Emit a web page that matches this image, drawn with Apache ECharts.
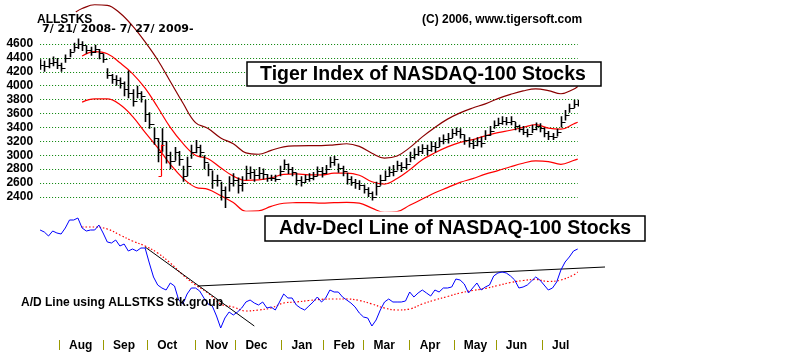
<!DOCTYPE html>
<html>
<head>
<meta charset="utf-8">
<script src="https://cdn.jsdelivr.net/npm/echarts@6/dist/echarts.min.js"></script>
<style>html,body{margin:0;padding:0;background:#fff;}#chart{width:800px;height:352px;}</style>
</head>
<body>
<div id="chart"></div>
<script>
// ---- data (trading-day index 0 = 7/21/2008, 256 = 7/27/2009; bars every 2 trading days) ----
const closes = [4300,4280,4320,4340,4300,4260,4400,4480,4560,4600,
 4580,4520,4490,4530,4470,4380,4150,4100,4080,4040,
 3950,3900,3780,3900,3850,3600,3450,3250,3050,3200,
 3000,2920,3050,2950,2700,2850,3050,3120,3050,2900,
 2800,2650,2650,2500,2400,2600,2650,2570,2600,2750,
 2760,2720,2750,2730,2680,2680,2660,2780,2880,2800,
 2760,2650,2620,2660,2680,2700,2780,2750,2800,2900,
 2950,2820,2780,2660,2620,2600,2570,2520,2460,2400,
 2560,2650,2700,2760,2780,2860,2830,2880,2980,3020,
 3060,3100,3080,3130,3120,3200,3230,3250,3320,3350,
 3300,3220,3180,3150,3200,3180,3290,3350,3440,3470,
 3500,3480,3490,3420,3380,3340,3300,3380,3420,3390,
 3320,3280,3260,3330,3480,3580,3680,3740,3750];
const highs = [4380,4360,4390,4420,4400,4330,4450,4530,4620,4680,
 4640,4580,4560,4590,4530,4460,4250,4170,4150,4120,
 4060,4220,3950,4000,3920,3800,3620,3400,3250,3390,
 3200,3050,3120,3060,2850,2980,3150,3220,3150,3000,
 2880,2780,2720,2620,2550,2700,2740,2680,2700,2850,
 2840,2800,2830,2810,2730,2720,2720,2850,2940,2880,
 2830,2750,2700,2720,2740,2760,2840,2830,2860,2980,
 2990,2880,2850,2750,2700,2660,2640,2580,2540,2480,
 2620,2720,2780,2840,2860,2920,2900,2960,3050,3100,
 3130,3160,3150,3200,3190,3260,3300,3320,3380,3400,
 3390,3300,3260,3230,3260,3270,3360,3420,3500,3540,
 3560,3550,3560,3480,3440,3420,3380,3440,3470,3460,
 3400,3350,3320,3380,3560,3650,3740,3800,3800];
const lows = [4230,4200,4250,4280,4240,4200,4330,4410,4490,4530,
 4500,4460,4430,4470,4380,4330,4100,4030,4000,3960,
 3850,3820,3700,3820,3760,3480,3380,3150,2900,3050,
 2880,2800,2920,2850,2620,2700,2950,3030,2970,2800,
 2700,2520,2550,2350,2240,2480,2550,2450,2480,2640,
 2660,2620,2660,2650,2620,2630,2620,2700,2790,2730,
 2700,2570,2550,2600,2620,2640,2700,2680,2730,2820,
 2850,2750,2700,2580,2560,2520,2500,2450,2400,2350,
 2420,2560,2630,2690,2700,2780,2760,2800,2900,2940,
 2990,3020,3000,3050,3040,3120,3160,3170,3250,3280,
 3240,3150,3110,3090,3130,3110,3220,3280,3380,3420,
 3440,3430,3430,3360,3330,3290,3260,3320,3360,3330,
 3260,3220,3220,3270,3400,3500,3610,3680,3700];
// Advance-decline line (arbitrary units), same days as the bars
const adLine = [110,108,104,109,107,106,112,120,120,122,
 112,109,110,110,115,107,98,97,100,94,
 96,89,91,89,92,92,77,63,55,52,
 50,57,54,40,36,46,52,52,49,42,
 36,34,24,12,22,28,25,28,32,38,
 40,37,35,38,32,33,30,38,46,42,
 42,35,32,30,34,38,43,38,42,50,
 48,48,43,40,37,33,27,23,22,14,
 20,30,38,41,38,38,38,39,48,43,
 47,50,47,44,50,48,52,52,53,61,
 60,56,47,52,57,50,53,55,64,67,
 68,67,64,60,52,53,55,59,63,60,
 55,50,52,58,70,78,83,89,91];
// smooth bands / moving averages, sampled on these trading days
const bandDays = [17,20,26,32,38,44,50,56,62,68,74,80,86,92,98,104,110,116,122,128,134,140,146,152,158,164,170,176,182,188,194,200,206,212,218,224,230,236,242,248,254,256];
const upperBand = [5061,5110,5165,5157,5045,4860,4630,4370,4062,3752,3470,3385,3250,3165,3035,3015,3070,3122,3136,3138,3138,3150,3166,3128,3030,2960,2990,3110,3265,3400,3520,3610,3680,3740,3815,3875,3925,3954,3930,3885,3950,3990];
const midBand = [null,4428,4490,4460,4330,4175,3965,3690,3400,3170,3000,2950,2820,2700,2638,2645,2675,2725,2732,2718,2718,2742,2744,2712,2620,2586,2665,2790,2935,3035,3120,3185,3225,3280,3325,3360,3400,3440,3390,3375,3450,3475];
const lowerBand = [null,3765,3810,3810,3730,3560,3330,3110,2870,2670,2540,2510,2420,2320,2195,2200,2265,2310,2318,2320,2312,2318,2322,2312,2240,2180,2190,2280,2370,2460,2535,2610,2665,2728,2780,2835,2885,2920,2910,2870,2925,2945];
const adAverage = [null,113,113,111,105,99,94,87,77,65,55,47,36,33,29,30,32,37,38,39.5,40.7,41,41,39.5,36,32,30,31,36,40,43.5,47,49.5,51.5,54.5,57.5,59.5,60.5,58.5,60,65,68];
// red signal bar
const signalDay = [57.5], signalHigh = [3150], signalLow = [2700];
// trend lines on the A/D line
const trendDown = { days: [50, 102], values: [93, 14] };
const trendUp = { days: [75, 269], values: [54, 73] };
// month starts (trading-day index) and names
const monthStarts = [9,30,51,74,93,115,135,154,176,197,217,239];
const monthNames = ['Aug','Sep','Oct','Nov','Dec','Jan','Feb','Mar','Apr','May','Jun','Jul'];
const priceTicks = [2400,4600,200];

// ---- build ----
const barDays = closes.map((_, k) => k * 2);
const ohlc = closes.map((c, k) => [barDays[k], k > 0 ? closes[k - 1] : c, highs[k], lows[k], c]);
const signal = signalDay.map((d, k) => [d, signalLow[k], signalHigh[k], signalLow[k], signalHigh[k]]);
const FONT = 'Liberation Sans, Arial, sans-serif';
const pxPerDay = 2.1, leftX = 40.1;

function barRenderer(color, w) {
  return function (params, api) {
    const d = api.value(0);
    const pO = api.coord([d, api.value(1)]);
    const pH = api.coord([d, api.value(2)]);
    const pL = api.coord([d, api.value(3)]);
    const pC = api.coord([d, api.value(4)]);
    const x = Math.round(pH[0]) + 0.5;
    const st = { stroke: color, lineWidth: w };
    const yo = Math.round(pO[1]) + 0.5, yc = Math.round(pC[1]) + 0.5;
    return { type: 'group', children: [
      { type: 'line', shape: { x1: x, y1: pH[1], x2: x, y2: pL[1] }, style: st },
      { type: 'line', shape: { x1: x - 3, y1: yo, x2: x, y2: yo }, style: { stroke: color, lineWidth: 1 } },
      { type: 'line', shape: { x1: x, y1: yc, x2: x + 3, y2: yc }, style: { stroke: color, lineWidth: 1 } }
    ] };
  };
}
const pairs = (days, vals) => days.map((d, k) => [d, vals[k]]);

const chart = echarts.init(document.getElementById('chart'), null, { renderer: 'canvas' });
chart.setOption({
  animation: false,
  backgroundColor: '#ffffff',
  grid: [
    { left: leftX, top: 2.3, width: 256 * pxPerDay, height: 208.6 },
    { left: leftX, top: 44, width: 256 * pxPerDay, height: 153 },
    { left: leftX, top: 210, width: 272 * pxPerDay, height: 130 }
  ],
  xAxis: [
    { gridIndex: 0, type: 'value', min: 0, max: 256, show: false },
    { gridIndex: 1, type: 'value', min: 0, max: 256, show: false },
    { gridIndex: 2, type: 'value', min: 0, max: 272,
      axisLine: { show: false }, splitLine: { show: false },
      axisTick: { show: true, customValues: monthStarts, length: 10, lineStyle: { color: '#9a9a00', width: 1 } },
      axisLabel: { customValues: monthStarts, formatter: v => monthNames[monthStarts.indexOf(v)] || '',
        align: 'left', padding: [0, 0, 0, 10], margin: 0, color: '#000', fontWeight: 'bold', fontSize: 12, fontFamily: FONT } }
  ],
  yAxis: [
    { gridIndex: 0, type: 'value', min: 2200, max: 5200, show: false },
    { gridIndex: 1, type: 'value', min: priceTicks[0], max: priceTicks[1], interval: priceTicks[2],
      axisLine: { show: false }, axisTick: { show: false },
      splitLine: { show: true, lineStyle: { color: '#008000', type: [1, 2], width: 1 } },
      axisLabel: { formatter: v => String(v), color: '#000', fontWeight: 'bold', fontSize: 12, fontFamily: FONT, margin: 7 } },
    { gridIndex: 2, type: 'value', min: 0, max: 130, show: false }
  ],
  series: [
    { type: 'line', xAxisIndex: 0, yAxisIndex: 0, data: pairs(bandDays, upperBand), smooth: 0.4, symbol: 'none',
      lineStyle: { color: '#8b0000', width: 1.2 }, clip: true, z: 2 },
    { type: 'line', xAxisIndex: 0, yAxisIndex: 0, data: pairs(bandDays, midBand), smooth: 0.4, symbol: 'none',
      lineStyle: { color: '#ff0000', width: 1.2 }, clip: true, z: 2 },
    { type: 'line', xAxisIndex: 0, yAxisIndex: 0, data: pairs(bandDays, lowerBand), smooth: 0.4, symbol: 'none',
      lineStyle: { color: '#ff0000', width: 1.2 }, clip: true, z: 2 },
    { type: 'custom', xAxisIndex: 0, yAxisIndex: 0, data: ohlc, renderItem: barRenderer('#000', 1.6),
      encode: { x: 0, y: [1, 2, 3, 4] }, clip: true, z: 3 },
    { type: 'custom', xAxisIndex: 0, yAxisIndex: 0, data: signal, renderItem: barRenderer('#ff0000', 1.2),
      encode: { x: 0, y: [1, 2, 3, 4] }, clip: true, z: 4 },
    { type: 'line', xAxisIndex: 2, yAxisIndex: 2, data: pairs(bandDays, adAverage), smooth: 0.4, symbol: 'none',
      lineStyle: { color: '#ff0000', width: 1.2, type: [1.5, 2] }, z: 2 },
    { type: 'line', xAxisIndex: 2, yAxisIndex: 2, data: pairs(trendDown.days, trendDown.values), symbol: 'none',
      lineStyle: { color: '#000', width: 1 }, z: 2 },
    { type: 'line', xAxisIndex: 2, yAxisIndex: 2, data: pairs(trendUp.days, trendUp.values), symbol: 'none',
      lineStyle: { color: '#000', width: 1 }, z: 2 },
    { type: 'line', xAxisIndex: 2, yAxisIndex: 2, data: pairs(barDays, adLine), symbol: 'none',
      lineStyle: { color: '#0000ff', width: 1 }, z: 3 }
  ],
  graphic: [
    { type: 'text', left: 37, top: 14, z: 100, style: { text: 'ALLSTKS', font: 'bold 12px ' + FONT, fill: '#000' } },
    { type: 'text', left: 42, top: 24, z: 100, style: { text: '7/ 21/ 2008- 7/ 27/ 2009-', font: 'bold 11px DejaVu Sans, sans-serif', fill: '#000' } },
    { type: 'text', left: 422, top: 14, z: 100, style: { text: '(C) 2006, www.tigersoft.com', font: 'bold 12px ' + FONT, fill: '#000' } },
    { type: 'rect', z: 100, shape: { x: 247, y: 62, width: 354, height: 24 }, style: { fill: '#fff', stroke: '#000', lineWidth: 1.5 } },
    { type: 'text', z: 101, x: 423, y: 74.5, style: { text: 'Tiger Index of NASDAQ-100 Stocks', font: 'bold 19.5px ' + FONT, fill: '#000', align: 'center', verticalAlign: 'middle' } },
    { type: 'rect', z: 100, shape: { x: 265, y: 216, width: 380, height: 25 }, style: { fill: '#fff', stroke: '#000', lineWidth: 1.5 } },
    { type: 'text', z: 101, x: 455, y: 229, style: { text: 'Adv-Decl Line of NASDAQ-100 Stocks', font: 'bold 19.5px ' + FONT, fill: '#000', align: 'center', verticalAlign: 'middle' } },
    { type: 'text', left: 21, top: 297, z: 100, style: { text: 'A/D Line using ALLSTKS Stk.group', font: 'bold 12px ' + FONT, fill: '#000' } }
  ]
});
</script>
</body>
</html>
